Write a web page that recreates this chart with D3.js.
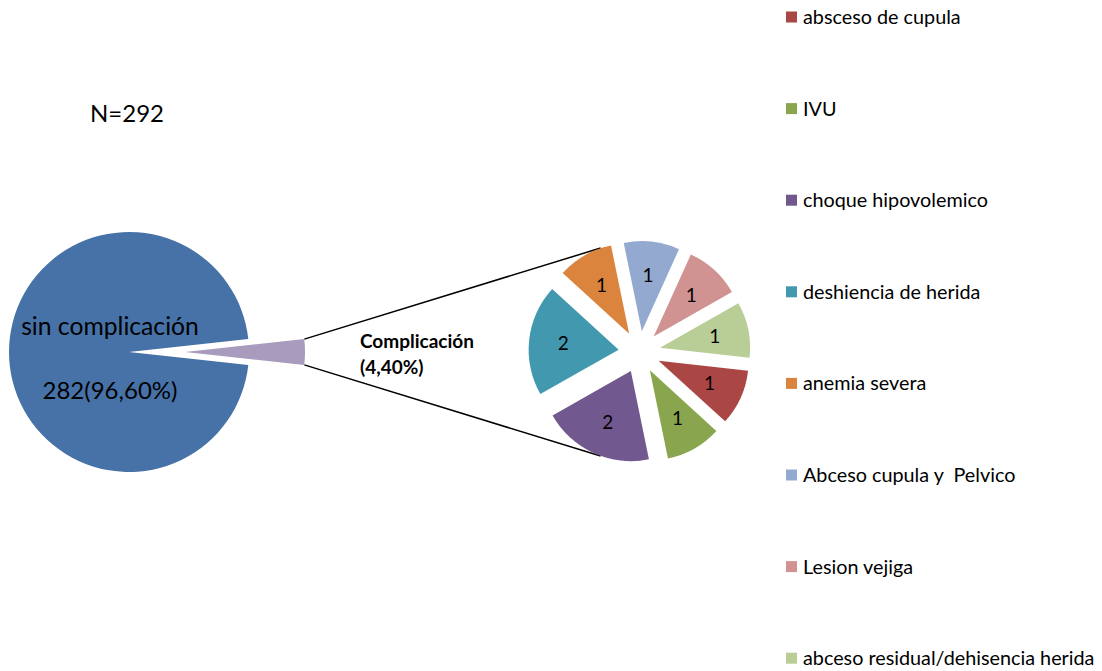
<!DOCTYPE html>
<html>
<head>
<meta charset="utf-8">
<script src="https://cdn.jsdelivr.net/npm/d3@7"></script>
<style>
  body { margin: 0; background: #fff; }
  text { font-family: Lato, "Open Sans", sans-serif; fill: #000; white-space: pre; }
</style>
</head>
<body>
<svg id="chart" width="1102" height="671"></svg>
<script>
// main pie data
var main_labels = ["Complicación", "sin complicación"],
    main_values = [10, 282],
    main_colors = ["#A99BBD", "#4672A8"];

// secondary pie data (complications)
var sub_labels = ["absceso de cupula", "IVU", "choque hipovolemico", "deshiencia de herida",
                  "anemia severa", "Abceso cupula y  Pelvico", "Lesion vejiga",
                  "abceso residual/dehisencia herida"],
    sub_values = [1, 1, 2, 2, 1, 1, 1, 1],
    sub_colors = ["#AA4643", "#89A54E", "#71588F", "#4198AF",
                  "#DB843D", "#93A9CF", "#D19392", "#B9CD96"];

var svg = d3.select("#chart");

// geometry
var main_cx = 129, main_cy = 352, main_r = 120, main_explode = 56;
var sub_cx = 639.5, sub_cy = 352, sub_r = 90, sub_explode = 21;
var deg = Math.PI / 180;

// main pie, complication slice centered on the right
var main_total = d3.sum(main_values);
var half = Math.PI * main_values[0] / main_total;
var main_pie = d3.pie().sort(null)
    .startAngle(Math.PI / 2 - half)
    .endAngle(Math.PI / 2 - half + 2 * Math.PI);
var main_arcs = main_pie(main_values);
var main_arc = d3.arc().innerRadius(0).outerRadius(main_r);

// secondary pie
var sub_pie = d3.pie().sort(null)
    .startAngle(96.4 * deg)
    .endAngle(96.4 * deg + 2 * Math.PI);
var sub_arcs = sub_pie(sub_values);
var sub_arc = d3.arc().innerRadius(0).outerRadius(sub_r);
var label_arc = d3.arc().innerRadius(sub_r * 1.24).outerRadius(0);

// shift of an exploded slice along its bisector
function offset(d, dist) {
    var a = (d.startAngle + d.endAngle) / 2;
    return [Math.sin(a) * dist, -Math.cos(a) * dist];
}

// connector lines from complication slice to secondary pie
var c = main_arcs[0];
var cOff = offset(c, main_explode);
var ends = [c.startAngle, c.endAngle].map(function(a) {
    return [main_cx + cOff[0] + Math.sin(a) * main_r, main_cy + cOff[1] - Math.cos(a) * main_r];
});
var link_pts = [[249.5, 0], [110.5, 1]];
link_pts.forEach(function(p) {
    var a = p[0] * deg;
    svg.append("line")
        .attr("x1", ends[p[1]][0])
        .attr("y1", ends[p[1]][1])
        .attr("x2", sub_cx + Math.cos(a) * (sub_r + sub_explode))
        .attr("y2", sub_cy + Math.sin(a) * (sub_r + sub_explode))
        .attr("stroke", "#000")
        .attr("stroke-width", 1.5);
});

// draw main pie
svg.append("g")
    .attr("transform", "translate(" + main_cx + "," + main_cy + ")")
    .selectAll("path")
    .data(main_arcs)
    .enter().append("path")
    .attr("d", main_arc)
    .attr("transform", function(d, i) {
        var o = i === 0 ? offset(d, main_explode) : [0, 0];
        return "translate(" + o[0] + "," + o[1] + ")";
    })
    .attr("fill", function(d, i) { return main_colors[i]; });

// draw secondary pie
var sub_g = svg.append("g")
    .attr("transform", "translate(" + sub_cx + "," + sub_cy + ")");

sub_g.selectAll("path")
    .data(sub_arcs)
    .enter().append("path")
    .attr("d", sub_arc)
    .attr("transform", function(d) {
        var o = offset(d, sub_explode);
        return "translate(" + o[0] + "," + o[1] + ")";
    })
    .attr("fill", function(d, i) { return sub_colors[i]; });

sub_g.selectAll("text")
    .data(sub_arcs)
    .enter().append("text")
    .attr("transform", function(d) {
        var o = offset(d, sub_explode);
        var p = label_arc.centroid(d);
        return "translate(" + (o[0] + p[0]) + "," + (o[1] + p[1]) + ")";
    })
    .attr("text-anchor", "middle")
    .attr("dy", "0.35em")
    .style("font-size", "19px")
    .text(function(d) { return d.value; });

// main labels
svg.append("text")
    .attr("x", 110).attr("y", 335)
    .attr("text-anchor", "middle")
    .style("font-size", "24.7px")
    .text(main_labels[1]);

svg.append("text")
    .attr("x", 110).attr("y", 399)
    .attr("text-anchor", "middle")
    .style("font-size", "24px")
    .text("282(96,60%)");

svg.append("text")
    .attr("x", 360).attr("y", 348)
    .style("font-size", "19px")
    .style("font-weight", "bold")
    .text(main_labels[0]);

svg.append("text")
    .attr("x", 360).attr("y", 374)
    .style("font-size", "19px")
    .style("font-weight", "bold")
    .text("(4,40%)");

svg.append("text")
    .attr("x", 90).attr("y", 122)
    .style("font-size", "24px")
    .text("N=292");

// legend
var legend = svg.append("g")
    .attr("transform", "translate(786, 17)");

sub_labels.forEach(function(l, i) {
    legend.append("rect")
        .attr("x", 0)
        .attr("y", i * 91.6 - 5.5)
        .attr("width", 11)
        .attr("height", 11)
        .attr("fill", sub_colors[i]);

    legend.append("text")
        .attr("x", 17)
        .attr("y", i * 91.6)
        .attr("dy", "0.35em")
        .style("font-size", "19.8px")
        .text(l);
});
</script>
</body>
</html>
